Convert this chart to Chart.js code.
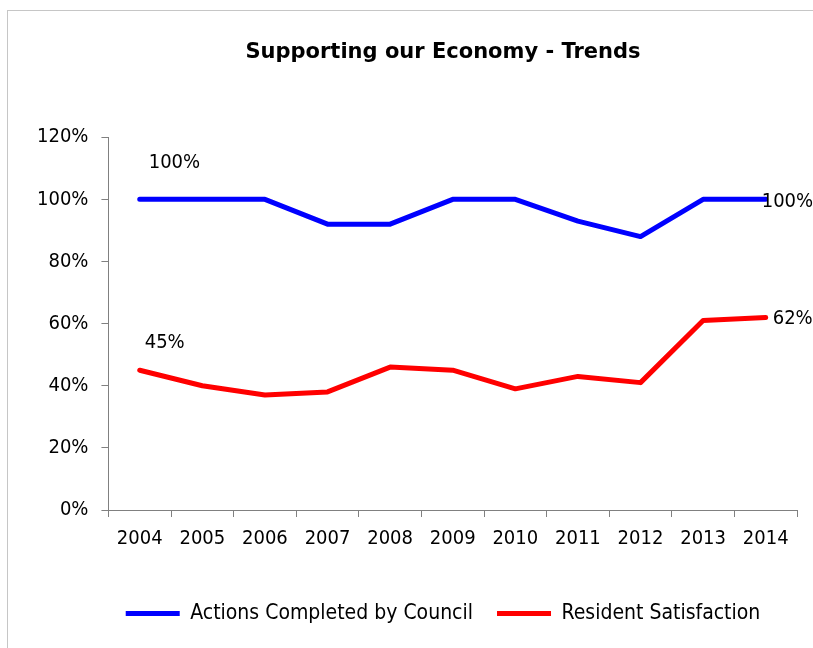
<!DOCTYPE html>
<html>
<head>
<meta charset="utf-8">
<script src="https://cdn.jsdelivr.net/npm/chart.js@4"></script>
<style>
  html, body { margin: 0; padding: 0; background: #fff; overflow: hidden; }
  #frame { position: absolute; left: 7px; top: 10px; width: 900px; height: 700px; border: 1px solid #c6c6c6; }
  #wrap { position: absolute; left: 0; top: 0; width: 862px; height: 660px; }
</style>
</head>
<body>
<div id="frame"></div>
<div id="wrap"><canvas id="trend"></canvas></div>
<script>
const years = ["2004", "2005", "2006", "2007", "2008", "2009", "2010", "2011", "2012", "2013", "2014"];
const actionsCompleted = [100, 100, 100, 92, 92, 100, 100, 93, 88, 100, 100];
const residentSatisfaction = [45, 40, 37, 38, 46, 45, 39, 43, 41, 61, 62];
const seriesNames = ["Actions Completed by Council", "Resident Satisfaction"];
const yTicks = [0, 20, 40, 60, 80, 100, 120];

const FONT = "'DejaVu Sans Condensed', 'DejaVu Sans', sans-serif";
const TITLE_FONT = "'DejaVu Sans', sans-serif";

// value labels on the first and last point of each line
const labelOffsets = [
  { first: { dx: 9, dy: -37 }, last: { dx: -4, dy: 2 } },
  { first: { dx: 5, dy: -27 }, last: { dx: 7, dy: 1 } },
];

const endLabels = {
  id: "endLabels",
  afterDatasetsDraw(chart) {
    const ctx = chart.ctx;
    ctx.save();
    ctx.font = "20px " + FONT;
    ctx.fillStyle = "#000";
    ctx.textAlign = "left";
    ctx.textBaseline = "middle";
    chart.data.datasets.forEach((ds, i) => {
      const pts = chart.getDatasetMeta(i).data;
      const off = labelOffsets[i];
      const first = pts[0], last = pts[pts.length - 1];
      ctx.fillText(ds.data[0] + "%", first.x + off.first.dx, first.y + off.first.dy);
      ctx.fillText(ds.data[ds.data.length - 1] + "%", last.x + off.last.dx, last.y + off.last.dy);
    });
    ctx.restore();
  },
};

new Chart(document.getElementById("trend"), {
  type: "line",
  data: {
    labels: years,
    datasets: [
      { label: seriesNames[0], data: actionsCompleted, borderColor: "#0000ff", backgroundColor: "#0000ff" },
      { label: seriesNames[1], data: residentSatisfaction, borderColor: "#ff0000", backgroundColor: "#ff0000" },
    ],
  },
  options: {
    responsive: true,
    maintainAspectRatio: false,
    animation: false,
    layout: { padding: { left: 24, right: 0, bottom: 26 } },
    elements: {
      line: { borderWidth: 5, tension: 0, borderCapStyle: "round", borderJoinStyle: "round" },
      point: { radius: 0, hoverRadius: 0 },
    },
    plugins: {
      tooltip: { enabled: false },
      title: {
        display: true,
        text: "Supporting our Economy - Trends",
        color: "#000",
        font: { family: TITLE_FONT, size: 21, weight: "bold" },
        padding: { top: 40, bottom: 72 },
      },
      legend: {
        position: "bottom",
        labels: {
          color: "#000",
          font: { family: FONT, size: 21 },
          boxWidth: 54,
          boxHeight: 5,
          padding: 24,
          generateLabels(chart) {
            return chart.data.datasets.map((ds, i) => ({
              text: ds.label,
              fillStyle: ds.borderColor,
              strokeStyle: ds.borderColor,
              lineWidth: 0,
              datasetIndex: i,
            }));
          },
        },
      },
    },
    scales: {
      x: {
        offset: true,
        border: { color: "#808080", width: 1 },
        grid: { drawOnChartArea: false, offset: true, tickLength: 7, color: "#808080" },
        ticks: { color: "#000", font: { family: FONT, size: 20 }, padding: 10, maxRotation: 0 },
        afterFit(scale) { scale.height += 18; },
      },
      y: {
        min: 0,
        max: 120,
        afterBuildTicks(scale) { scale.ticks = yTicks.map((v) => ({ value: v })); },
        border: { color: "#808080", width: 1 },
        grid: { drawOnChartArea: false, tickLength: 7, color: "#808080" },
        ticks: { color: "#000", font: { family: FONT, size: 20 }, padding: 13, callback: (v) => v + "%" },
      },
      // empty right-hand gutter that holds the end labels
      gutter: {
        type: "linear",
        position: "right",
        display: true,
        border: { display: false },
        grid: { display: false },
        ticks: { display: false },
        afterFit(scale) { scale.width = 65; },
      },
    },
  },
  plugins: [endLabels],
});
</script>
</body>
</html>
